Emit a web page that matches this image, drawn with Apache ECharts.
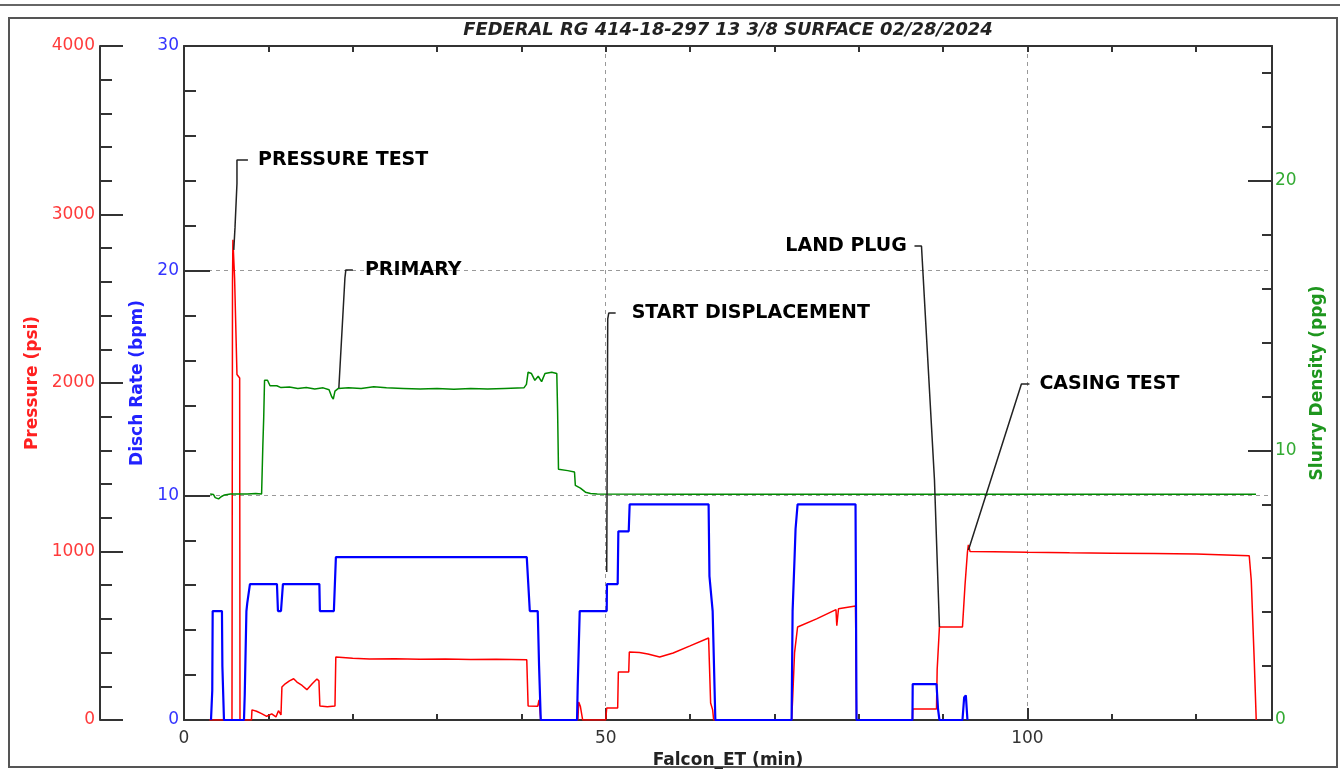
<!DOCTYPE html>
<html>
<head>
<meta charset="utf-8">
<title>FEDERAL RG 414-18-297 13 3/8 SURFACE 02/28/2024</title>
<script src="https://cdn.jsdelivr.net/npm/echarts@6/dist/echarts.min.js"></script>
<style>
  html, body { margin: 0; padding: 0; background: #fff; }
  #chart { width: 1340px; height: 776px; }
</style>
</head>
<body>
<div id="chart"></div>
<script>
const titleText = 'FEDERAL RG 414-18-297 13 3/8 SURFACE 02/28/2024'
const xLabels = [0, 50, 100]
const densityLabels = [0, 10, 20]

// [min, bpm]
const rateData = [
  [3.2, 0], [3.32, 0], [3.35, 1.3], [3.4, 4.85], [4.5, 4.85], [4.55, 2.4], [4.74, 0],
  [7.11, 0], [7.2, 1.1], [7.4, 4.85], [7.5, 5.2], [7.82, 6.05], [11.02, 6.05], [11.14, 4.85],
  [11.5, 4.85], [11.73, 6.05], [16.05, 6.05], [16.11, 4.85], [17.77, 4.85], [18.01, 7.25],
  [40.64, 7.25], [41.0, 4.85], [41.94, 4.85], [42.1, 2.4], [42.3, 0],
  [46.6, 0], [46.68, 1.5], [46.92, 4.85], [50.12, 4.85], [50.15, 6.05], [51.42, 6.05],
  [51.5, 8.4], [52.73, 8.4], [52.84, 9.6], [62.2, 9.6], [62.3, 6.4], [62.68, 4.85],
  [62.91, 4.85], [63.0, 0],
  [72.04, 0], [72.16, 4.85], [72.39, 7.2], [72.51, 8.5], [72.75, 9.6], [79.62, 9.6], [79.74, 0],
  [86.37, 0], [86.4, 1.6], [89.22, 1.6], [89.4, 0.5], [89.57, 0],
  [92.3, 0], [92.5, 1.0], [92.7, 1.1], [92.89, 0]
]

// [min, psi]
const pressureData = [
  [3.0, 0], [5.69, 0], [5.75, 2600], [5.8, 2850], [5.88, 2850], [6.0, 2620], [6.28, 2050],
  [6.6, 2030], [6.64, 0],
  [8.0, 0], [8.06, 60], [8.6, 52], [9.2, 38], [9.8, 22], [10.4, 36], [10.9, 18], [11.2, 55],
  [11.5, 30], [11.61, 196], [12.0, 215], [12.5, 232], [13.0, 245], [13.39, 225], [14.0, 205],
  [14.57, 180], [15.2, 215], [15.76, 243], [16.0, 232], [16.11, 83], [17.0, 78], [17.9, 83],
  [18.0, 374], [20, 366], [22, 362], [25, 364], [28, 360], [31, 362], [34, 359], [37, 361],
  [40.64, 358], [40.8, 83], [41.94, 82], [42.1, 120], [42.3, 0],
  [46.7, 0], [46.8, 107], [47.0, 80], [47.27, 0],
  [50.0, 0], [50.12, 71], [51.42, 71], [51.5, 285], [52.73, 285], [52.8, 404], [54, 400],
  [55, 392], [56.4, 374], [58, 398], [60, 440], [62.2, 487], [62.44, 101], [62.68, 60], [62.8, 0],
  [72.04, 0], [72.16, 119], [72.39, 398], [72.75, 552], [75, 600], [77.3, 655], [77.4, 560],
  [77.5, 560], [77.6, 660], [79.62, 677], [79.74, 0],
  [86.37, 0], [86.4, 65], [89.22, 65], [89.3, 300], [89.57, 552], [92.3, 552], [92.6, 800],
  [92.89, 997], [93.0, 1039], [93.2, 1000], [96, 998], [100, 995], [105, 992], [110, 990],
  [115, 988], [120, 985], [126.3, 975], [126.54, 830], [126.9, 345], [127.13, 0]
]

// [min, ppg]
const densityData = [
  [3.1, 8.38], [3.5, 8.36], [3.7, 8.25], [3.9, 8.3], [4.1, 8.2], [4.4, 8.28], [4.8, 8.35],
  [5.5, 8.38], [6.5, 8.38], [7.5, 8.38], [8.5, 8.4], [9.2, 8.38], [9.35, 10.2], [9.45, 11.2],
  [9.55, 12.6], [9.9, 12.6], [10.2, 12.4], [11, 12.4], [11.5, 12.33], [12.5, 12.35],
  [13.5, 12.3], [14.5, 12.33], [15.5, 12.28], [16.5, 12.32], [17.2, 12.25], [17.5, 12.0],
  [17.7, 11.9], [17.9, 12.2], [18.3, 12.3], [19.5, 12.32], [21, 12.3], [22.5, 12.36],
  [24, 12.32], [26, 12.3], [28, 12.28], [30, 12.3], [32, 12.27], [34, 12.3], [36, 12.28],
  [38, 12.3], [40.3, 12.32], [40.6, 12.45], [40.8, 12.9], [41.2, 12.85], [41.6, 12.6],
  [42, 12.75], [42.4, 12.55], [42.8, 12.85], [43.6, 12.9], [44.2, 12.85], [44.3, 11.4],
  [44.4, 9.3], [45.5, 9.25], [46.3, 9.2], [46.4, 8.7], [47.0, 8.6], [47.6, 8.45], [48.2, 8.4],
  [49, 8.38], [60, 8.37], [80, 8.37], [100, 8.37], [127.1, 8.37]
]

// leader lines, [min, psi]
const pressureTestLeader = [[5.9, 2790], [6.05, 2925], [6.28, 3184], [6.28, 3324], [7.58, 3324]]
const primaryLeader = [[18.36, 1970], [19.08, 2623], [19.19, 2671], [20.02, 2671]]
const startDispLeader = [[50.12, 878], [50.24, 2380], [50.36, 2415], [51.18, 2415]]
const landPlugLeader = [[86.61, 2813], [87.44, 2813], [88.98, 1424], [89.57, 552]]
const casingTestLeader = [[93.01, 1009], [99.29, 1994], [100.24, 1994]]

const annotationNames = ['PRESSURE TEST', 'PRIMARY', 'START DISPLACEMENT', 'LAND PLUG', 'CASING TEST']
const annotationAnchors = [[8.77, 3324], [21.45, 2671], [53.08, 2415], [85.7, 2813], [101.42, 1994]]

const font = 'DejaVu Sans'
const axisColor = '#333'
const gridDash = { color: '#999', type: [4, 4], width: 1 }

const chart = echarts.init(document.getElementById('chart'))

const leaderSeries = [pressureTestLeader, primaryLeader, startDispLeader, landPlugLeader, casingTestLeader]
  .map(pts => ({
    type: 'line',
    xAxisIndex: 0,
    yAxisIndex: 1,
    data: pts,
    showSymbol: false,
    lineStyle: { color: '#222', width: 1.5 },
    z: 5
  }))

const option = {
  animation: false,
  graphic: [
    { type: 'line', shape: { x1: 0, y1: 5, x2: 1340, y2: 5 }, style: { stroke: '#666', lineWidth: 2 } },
    { type: 'rect', shape: { x: 9, y: 18, width: 1328, height: 749 }, style: { fill: 'none', stroke: '#555', lineWidth: 2 } },
    {
      type: 'text', x: 728, y: 30,
      style: {
        text: titleText, fill: '#222', align: 'center', verticalAlign: 'middle',
        font: 'italic bold 17.9px "DejaVu Sans"'
      }
    }
  ],
  grid: { left: 184, right: 68, top: 46, bottom: 56 },
  xAxis: [
    {
      type: 'value', min: 0, max: 129, interval: 10, position: 'bottom',
      axisLine: { onZero: false, lineStyle: { color: axisColor, width: 2 } },
      axisTick: { inside: true, length: 6, lineStyle: { color: axisColor, width: 2 } },
      axisLabel: {
        formatter: v => (xLabels.includes(v) ? String(v) : ''),
        color: '#333', fontSize: 17, fontFamily: font, margin: 10
      },
      splitLine: { show: false },
      name: 'Falcon_ET (min)', nameLocation: 'middle', nameGap: 27,
      nameTextStyle: { color: '#222', fontSize: 17, fontWeight: 'bold', fontFamily: font }
    },
    {
      type: 'value', min: 0, max: 129, interval: 10, position: 'top',
      axisLine: { onZero: false, lineStyle: { color: axisColor, width: 2 } },
      axisTick: { inside: true, length: 6, lineStyle: { color: axisColor, width: 2 } },
      axisLabel: { show: false },
      splitLine: { show: false }
    },
    {
      type: 'value', min: 0, max: 129, interval: 50, position: 'bottom',
      axisLine: { show: false, onZero: false },
      axisTick: { inside: true, length: 12, lineStyle: { color: axisColor, width: 2 } },
      axisLabel: { show: false },
      splitLine: { show: true, lineStyle: gridDash }
    }
  ],
  yAxis: [
    {
      type: 'value', min: 0, max: 30, interval: 10, position: 'left',
      axisLine: { show: true, onZero: false, lineStyle: { color: axisColor, width: 2 } },
      axisTick: { show: true, inside: true, length: 26, lineStyle: { color: axisColor, width: 2 } },
      minorTick: { show: true, splitNumber: 5, length: 12, lineStyle: { color: axisColor, width: 2 } },
      axisLabel: { formatter: v => String(v), color: '#3434ff', fontSize: 17, fontFamily: font, margin: 5 },
      splitLine: { show: true, lineStyle: gridDash },
      name: 'Disch Rate (bpm)', nameLocation: 'middle', nameGap: 24, nameRotate: 90,
      nameTextStyle: { color: '#2222ff', fontSize: 17, fontWeight: 'bold', fontFamily: font }
    },
    {
      type: 'value', min: 0, max: 4000, interval: 1000, position: 'left', offset: 84,
      axisLine: { show: true, onZero: false, lineStyle: { color: axisColor, width: 2 } },
      axisTick: { show: true, inside: true, length: 23, lineStyle: { color: axisColor, width: 2 } },
      minorTick: { show: true, splitNumber: 5, length: 12, lineStyle: { color: axisColor, width: 2 } },
      axisLabel: { formatter: v => String(v), color: '#ff3b3b', fontSize: 17, fontFamily: font, margin: 5 },
      splitLine: { show: false },
      name: 'Pressure (psi)', nameLocation: 'middle', nameGap: 43, nameRotate: 90,
      nameTextStyle: { color: '#ff2020', fontSize: 17, fontWeight: 'bold', fontFamily: font }
    },
    {
      type: 'value', min: 0, max: 25, interval: 2, position: 'right',
      axisLine: { show: true, onZero: false, lineStyle: { color: axisColor, width: 2 } },
      axisTick: { show: true, inside: true, length: 10, lineStyle: { color: axisColor, width: 2 } },
      axisLabel: {
        formatter: v => (densityLabels.includes(v) ? String(v) : ''),
        color: '#33aa33', fontSize: 17, fontFamily: font, margin: 3
      },
      splitLine: { show: false },
      name: 'Slurry Density (ppg)', nameLocation: 'middle', nameGap: 37, nameRotate: 90,
      nameTextStyle: { color: '#1e961e', fontSize: 17, fontWeight: 'bold', fontFamily: font }
    },
    {
      type: 'value', min: 0, max: 25, interval: 10, position: 'right',
      axisLine: { show: false, onZero: false },
      axisTick: { show: true, inside: true, length: 24, lineStyle: { color: axisColor, width: 2 } },
      axisLabel: { show: false },
      splitLine: { show: false }
    }
  ],
  series: [
    {
      name: 'Pressure', type: 'line', xAxisIndex: 0, yAxisIndex: 1, data: pressureData,
      showSymbol: false, lineStyle: { color: '#ff0000', width: 1.5 }, itemStyle: { color: '#ff0000' }, z: 2
    },
    {
      name: 'Disch Rate', type: 'line', xAxisIndex: 0, yAxisIndex: 0, data: rateData,
      showSymbol: false, lineStyle: { color: '#0000ff', width: 2.2 }, itemStyle: { color: '#0000ff' }, z: 3
    },
    {
      name: 'Slurry Density', type: 'line', xAxisIndex: 0, yAxisIndex: 2, data: densityData,
      showSymbol: false, lineStyle: { color: '#008a00', width: 1.5 }, itemStyle: { color: '#008a00' }, z: 3
    },
    ...leaderSeries,
    {
      type: 'scatter', xAxisIndex: 0, yAxisIndex: 1, symbolSize: 0, z: 6,
      itemStyle: { opacity: 1 },
      data: annotationNames.map((n, i) => ({
        name: n,
        value: annotationAnchors[i],
        label: n === 'LAND PLUG' ? { position: 'left' } : undefined
      })),
      label: {
        show: true, position: 'right', distance: 0, formatter: '{b}', opacity: 1,
        color: '#000', fontSize: 19, fontWeight: 'bold', fontFamily: font
      }
    }
  ]
}

chart.setOption(option)
</script>
</body>
</html>
